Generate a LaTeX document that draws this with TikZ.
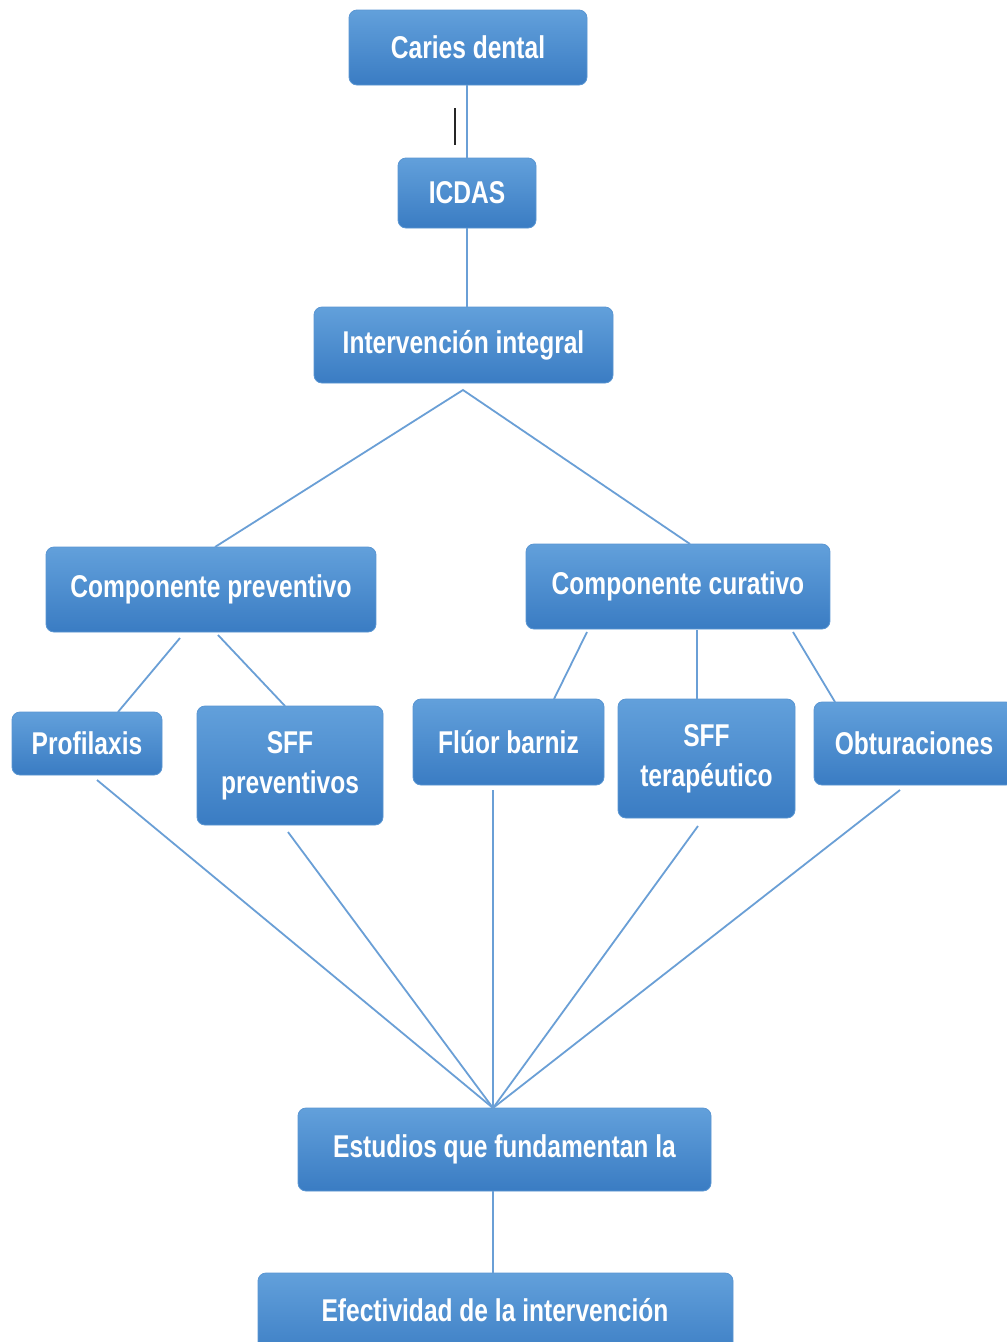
\documentclass[tikz,border=0pt]{standalone}
\usepackage{fontspec}
\setmainfont[FakeStretch=0.78]{Liberation Sans}
\begin{document}
\begin{tikzpicture}[x=1pt,y=-1pt,
  box/.style={rectangle,rounded corners=8pt,draw=boxedge,line width=0.8pt,
    top color=boxtop,bottom color=boxbot,text=white,
    font=\fontsize{31.5}{40}\selectfont\bfseries,align=center,inner sep=0pt},
  link/.style={draw=linkc,line width=1.8pt}]
\definecolor{boxtop}{HTML}{62A0DB}
\definecolor{boxbot}{HTML}{3A7CC3}
\definecolor{boxedge}{HTML}{5A96D2}
\definecolor{linkc}{HTML}{6A9FD6}
\useasboundingbox (0,0) rectangle (1007,1342);
\fill[white] (0,0) rectangle (1007,1342);
% boxes
\node[box,minimum width=238pt,minimum height=75pt] (caries) at (468,47.5) {Caries dental};
\node[box,minimum width=138pt,minimum height=70pt] (icdas) at (467,193) {ICDAS};
\node[box,minimum width=299pt,minimum height=76pt] (interv) at (463.5,345) {Intervención integral};
\node[box,minimum width=330pt,minimum height=85pt] (prev) at (211,589.5) {Componente preventivo};
\node[box,minimum width=304pt,minimum height=85pt] (cur) at (678,586.5) {Componente curativo};
\node[box,minimum width=150pt,minimum height=63pt] (prof) at (87,743.5) {Profilaxis};
\node[box,minimum width=186pt,minimum height=119pt] (sffp) at (290,765.5) {SFF\\preventivos};
\node[box,minimum width=191pt,minimum height=86pt] (fluor) at (508.5,742) {Flúor barniz};
\node[box,minimum width=177pt,minimum height=119pt] (sfft) at (706.5,758.5) {SFF\\terapéutico};
\node[box,minimum width=200pt,minimum height=83pt] (obt) at (914,743.5) {Obturaciones};
\node[box,minimum width=413pt,minimum height=83pt] (est) at (504.5,1149.5) {Estudios que fundamentan la};
\node[box,minimum width=475pt,minimum height=90pt] (efec) at (495.5,1318) {};
\node[text=white,font=\fontsize{31.5}{40}\selectfont\bfseries] (efect) at (495,1310) {Efectividad de la intervención};
% coordinates
\coordinate (apex) at (463,390);
\coordinate (prevtop) at (215,547);
\coordinate (curtop) at (690,544);
\coordinate (p1) at (180,638); \coordinate (p1e) at (118,712);
\coordinate (p2) at (218,635); \coordinate (p2e) at (285,706);
\coordinate (c1) at (587,632); \coordinate (c1e) at (554,699);
\coordinate (c2) at (697,630); \coordinate (c2e) at (697,699);
\coordinate (c3) at (793,632); \coordinate (c3e) at (835,702);
\coordinate (prb) at (97,780);
\coordinate (spb) at (288,832);
\coordinate (flb) at (493,790);
\coordinate (stb) at (698,826);
\coordinate (obb) at (900,790);
\coordinate (conv) at (493,1108);
\coordinate (mk1) at (455,108); \coordinate (mk2) at (455,145);
% links
\draw[link] (caries.south -| icdas.north) -- (icdas.north);
\draw[line width=1.8pt,black!85] (mk1) -- (mk2);
\draw[link] (icdas.south) -- (icdas.south |- interv.north);
\draw[link] (prevtop) -- (apex) -- (curtop);
\draw[link] (p1) -- (p1e);
\draw[link] (p2) -- (p2e);
\draw[link] (c1) -- (c1e);
\draw[link] (c2) -- (c2e);
\draw[link] (c3) -- (c3e);
\draw[link] (prb) -- (conv);
\draw[link] (spb) -- (conv);
\draw[link] (flb) -- (conv);
\draw[link] (stb) -- (conv);
\draw[link] (obb) -- (conv);
\draw[link] (conv |- est.south) -- (conv |- efec.north);
\end{tikzpicture}
\end{document}
